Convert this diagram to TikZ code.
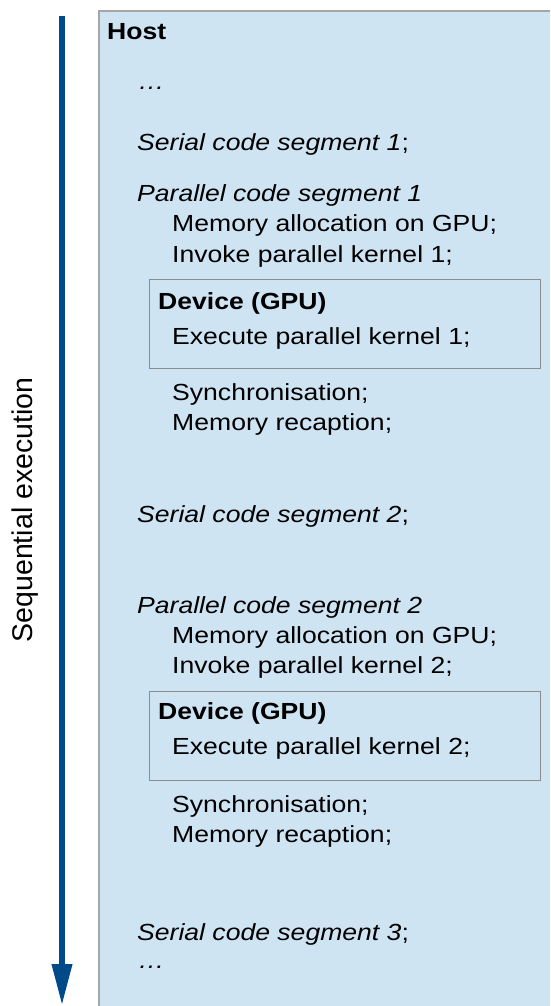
\documentclass[tikz,border=0pt]{standalone}
\usepackage{fontspec}
\setmainfont{Liberation Sans}
\usetikzlibrary{arrows.meta}
\definecolor{hostfill}{RGB}{207,228,243}
\definecolor{hostline}{RGB}{166,166,166}
\definecolor{devline}{RGB}{140,140,140}
\definecolor{seqblue}{RGB}{0,74,138}
\begin{document}
\begin{tikzpicture}[x=1pt, y=-1pt,
		txt/.style={anchor=base west, inner sep=0pt, xscale=1.14, font=\fontsize{23.3}{28}\selectfont},
		devbox/.style={draw=devline, line width=1pt, anchor=north west, inner sep=0pt, minimum width=391pt, minimum height=89pt}]
		\useasboundingbox ( 0, 0 ) rectangle ( 550, 1006 );

		% хост
		\node (host) [fill=hostfill, anchor=north west, inner sep=0pt, minimum width=451pt, minimum height=995pt] at ( 99, 11 ) {};
		\draw [hostline, line width=1.3pt] (host.south west) -- (host.north west) -- (host.north east);
		\node (hostlbl) [txt, font=\fontsize{23.3}{28}\selectfont\bfseries] at ( 107, 40 ) {Host};

		% последовательное выполнение
		\coordinate (seqtop) at ( 62, 16 );
		\coordinate (seqbot) at ( 62, 1006 );
		\draw [seqblue, line width=6.7pt, -{Triangle[length=42pt, width=19pt]}] (seqtop) -- (seqbot);
		\node (seqlbl) [rotate=90, font=\fontsize{28.5}{32}\selectfont] at ( 25, 510 ) {Sequential execution};

		% начало
		\node (dots1) [txt] at ( 138, 90 ) {\itshape …};
		\node (ser1) [txt] at ( 137, 150 ) {{\itshape Serial code segment 1};};

		% параллельный сегмент 1
		\node (par1) [txt] at ( 137, 201 ) {\itshape Parallel code segment 1};
		\node (alloc1) [txt] at ( 172, 231 ) {Memory allocation on GPU;};
		\node (inv1) [txt] at ( 172, 262 ) {Invoke parallel kernel 1;};
		\node (dev1) [devbox] at ( 149, 279 ) {};
		\node (devlbl1) [txt, font=\fontsize{23.3}{28}\selectfont\bfseries] at ( 158, 309 ) {Device (GPU)};
		\node (exec1) [txt] at ( 172, 344 ) {Execute parallel kernel 1;};
		\node (sync1) [txt] at ( 172, 400 ) {Synchronisation;};
		\node (rec1) [txt] at ( 172, 430 ) {Memory recaption;};

		\node (ser2) [txt] at ( 137, 522 ) {{\itshape Serial code segment 2};};

		% параллельный сегмент 2
		\node (par2) [txt] at ( 137, 613 ) {\itshape Parallel code segment 2};
		\node (alloc2) [txt] at ( 172, 643 ) {Memory allocation on GPU;};
		\node (inv2) [txt] at ( 172, 673 ) {Invoke parallel kernel 2;};
		\node (dev2) [devbox] at ( 149, 691 ) {};
		\node (devlbl2) [txt, font=\fontsize{23.3}{28}\selectfont\bfseries] at ( 158, 719 ) {Device (GPU)};
		\node (exec2) [txt] at ( 172, 754 ) {Execute parallel kernel 2;};
		\node (sync2) [txt] at ( 172, 812 ) {Synchronisation;};
		\node (rec2) [txt] at ( 172, 842 ) {Memory recaption;};

		% конец
		\node (ser3) [txt] at ( 137, 940 ) {{\itshape Serial code segment 3};};
		\node (dots2) [txt] at ( 138, 968 ) {\itshape …};
	\end{tikzpicture}
\end{document}
